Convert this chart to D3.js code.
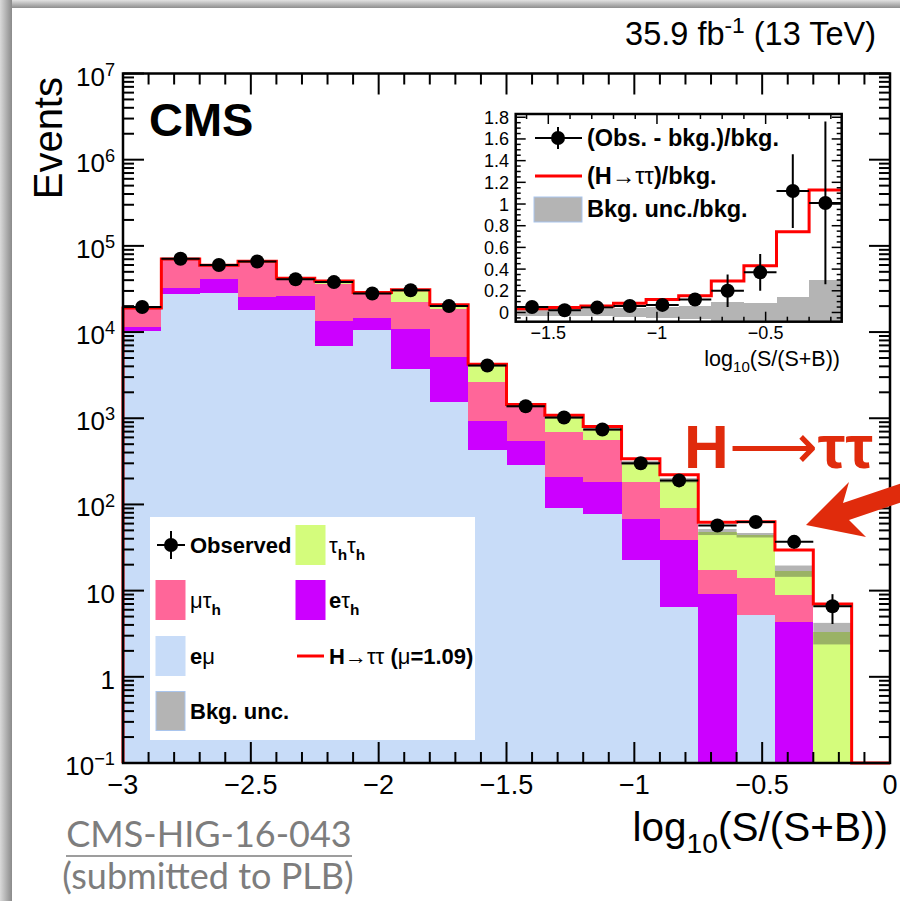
<!DOCTYPE html>
<html>
<head>
<meta charset="utf-8">
<script src="https://cdn.jsdelivr.net/npm/d3@7"></script>
<style>
  body { margin: 0; background: #fff; }
  svg { display: block; font-family: "Liberation Sans", Arial, Helvetica, sans-serif; }
</style>
</head>
<body>
<div id="chart"></div>
<script>
const W = 900, H = 908;

// bin edges of log10(S/(S+B))
const edges = [-3.00, -2.85, -2.70, -2.55, -2.40, -2.25, -2.10, -1.95, -1.80, -1.65,
               -1.50, -1.35, -1.20, -1.05, -0.90, -0.75, -0.60, -0.45, -0.30, -0.15, 0.00];

// background yields per bin (events)
const eMu    = [10300, 27900, 28400, 17900, 17900, 6900, 10500, 3770, 1550, 425, 285, 90, 78, 22.6, 6.5, 0, 5.2, 0, 0, 0];
const eTau   = [1200, 4500, 13300, 7600, 8000, 6500, 4000, 7030, 3650, 505, 261, 118, 104, 44.4, 32, 9.1, 0, 4.35, 0, 0];
const muTau  = [7400, 37400, 17500, 37500, 15500, 23100, 13600, 11500, 13500, 1670, 814, 485, 374, 115, 52.5, 8.2, 8.7, 4.55, 0, 0];
const tauTau = [100, 200, 200, 3000, 300, 2200, 300, 8200, 1700, 1500, 20, 327, 184, 121, 100, 30.7, 30.1, 8.1, 3.3, 0];
// relative background uncertainty
const bkgUnc = [0.03, 0.03, 0.03, 0.03, 0.03, 0.03, 0.03, 0.03, 0.03, 0.03, 0.03, 0.035, 0.04, 0.055, 0.06, 0.08, 0.06, 0.15, 0.28, 0];
// H->tautau signal (mu = 1.09)
const signal = [60, 250, 300, 400, 300, 350, 300, 450, 400, 143, 61, 61, 63, 36, 30, 14, 19, 12.7, 3.7, 0];
// observed data
const observed = [19500, 71000, 60000, 66000, 41000, 38000, 28000, 30500, 20000, 4100, 1380, 1020, 740, 300, 190, 57, 62.6, 36.8, 6.6, null];
const obsErr   = [140, 270, 245, 257, 202, 195, 167, 175, 141, 64, 37, 32, 27, 17, 14, 7.5, 8, 6, 2.5, 0];

// inset: last ten populated bins, ratios to background
const insetFirstBin = 9;
const insetObs    = [0.05, 0.02, 0.045, 0.06, 0.07, 0.12, 0.2, 0.37, 1.12, 1.01];
const insetObsErr = [0.02, 0.02, 0.025, 0.03, 0.04, 0.06, 0.15, 0.17, 0.34, 0.75];
const insetSig    = [0.035, 0.045, 0.06, 0.085, 0.12, 0.155, 0.29, 0.43, 0.745, 1.13];
const insetUnc    = [0.03, 0.03, 0.035, 0.04, 0.055, 0.06, 0.1, 0.09, 0.14, 0.3];

const xTickLabels = ["\u22123", "\u22122.5", "\u22122", "\u22121.5", "\u22121", "\u22120.5", "0"];
const insetXTickLabels = ["\u22121.5", "\u22121", "\u22120.5"];

const colors = { emu: "#c8dcf8", etau: "#cc00ff", mutau: "#ff6699", tautau: "#d4fc7c" };

const svg = d3.select('#chart').append('svg')
    .attr('width', W)
    .attr('height', H);

// slide shadow
const defs = svg.append('defs');
const gTop = defs.append('linearGradient').attr('id', 'shTop').attr('x1', 0).attr('y1', 0).attr('x2', 0).attr('y2', 1);
gTop.append('stop').attr('offset', '0%').attr('stop-color', '#e2e2e2');
gTop.append('stop').attr('offset', '100%').attr('stop-color', '#8e8e8e');
const gLeft = defs.append('linearGradient').attr('id', 'shLeft').attr('x1', 0).attr('y1', 0).attr('x2', 1).attr('y2', 0);
gLeft.append('stop').attr('offset', '0%').attr('stop-color', '#dadada');
gLeft.append('stop').attr('offset', '100%').attr('stop-color', '#8a8a8a');
svg.append('rect').attr('x', 0).attr('y', 0).attr('width', W).attr('height', 8).attr('fill', 'url(#shTop)');
svg.append('rect').attr('x', 0).attr('y', 0).attr('width', 12).attr('height', 901).attr('fill', 'url(#shLeft)');

// helper: text made of parts with bold / sub / sup
function rich(sel, parts, size) {
    let shift = 0;
    parts.forEach(p => {
        const s = p.sub ? 0.3 : (p.sup ? -0.38 : 0);
        const small = p.sub || p.sup;
        sel.append('tspan')
            .attr('dy', ((s - shift) * size).toFixed(2))
            .attr('font-size', small ? size * 0.7 : size)
            .attr('font-weight', p.b ? 'bold' : 'normal')
            .text(p.t);
        shift = s;
    });
    return sel;
}

// ---------------- main plot ----------------
const frame = { left: 123, right: 890, top: 73.5, bottom: 763 };
const x = d3.scaleLinear().domain([-3, 0]).range([frame.left, frame.right]);
const y = d3.scaleLog().domain([0.1, 1e7]).range([frame.bottom, frame.top]).clamp(true);
const yv = v => (v > 0.1 ? y(v) : y(0.1));

const keys = ['emu', 'etau', 'mutau', 'tautau'];
const rows = eMu.map((v, i) => ({ emu: v, etau: eTau[i], mutau: muTau[i], tautau: tauTau[i] }));
const stacked = d3.stack().keys(keys)(rows);
const totals = rows.map(r => r.emu + r.etau + r.mutau + r.tautau);

const plot = svg.append('g');

plot.append('g').selectAll('g')
    .data(stacked)
    .join('g')
    .attr('fill', d => colors[d.key])
    .selectAll('rect')
    .data(d => d)
    .join('rect')
    .attr('shape-rendering', 'crispEdges')
    .attr('x', (d, i) => x(edges[i]))
    .attr('width', (d, i) => x(edges[i + 1]) - x(edges[i]))
    .attr('y', d => yv(d[1]))
    .attr('height', d => Math.max(0, yv(d[0]) - yv(d[1])));

// background uncertainty band
plot.append('g').selectAll('rect')
    .data(totals.map((t, i) => ({ t, u: bkgUnc[i], i })).filter(d => d.t > 0))
    .join('rect')
    .attr('x', d => x(edges[d.i]))
    .attr('width', d => x(edges[d.i + 1]) - x(edges[d.i]))
    .attr('y', d => yv(d.t * (1 + d.u)))
    .attr('height', d => yv(d.t * (1 - d.u)) - yv(d.t * (1 + d.u)))
    .attr('fill', '#444')
    .attr('opacity', 0.4);

// signal + background outline
const sigPts = [[edges[0], 0.1]];
totals.forEach((t, i) => sigPts.push([edges[i], t + signal[i]]));
sigPts.push([edges[edges.length - 1], totals[totals.length - 1] + signal[signal.length - 1]]);
sigPts.push([edges[edges.length - 1], 0.1]);
plot.append('path')
    .datum(sigPts)
    .attr('fill', 'none')
    .attr('stroke', '#ff0000')
    .attr('stroke-width', 3)
    .attr('d', d3.line().x(d => x(d[0])).y(d => yv(d[1])).curve(d3.curveStepAfter));

// observed points
const obsData = observed.map((v, i) => ({ v, e: obsErr[i], i })).filter(d => d.v != null);
const obsG = plot.append('g').attr('stroke', '#000').attr('stroke-width', 2);
obsG.selectAll('.eh').data(obsData).join('line')
    .attr('x1', d => x(edges[d.i])).attr('x2', d => x(edges[d.i + 1]))
    .attr('y1', d => y(d.v)).attr('y2', d => y(d.v));
obsG.selectAll('.ev').data(obsData).join('line')
    .attr('x1', d => x((edges[d.i] + edges[d.i + 1]) / 2)).attr('x2', d => x((edges[d.i] + edges[d.i + 1]) / 2))
    .attr('y1', d => yv(d.v + d.e)).attr('y2', d => yv(d.v - d.e));
plot.append('g').selectAll('circle').data(obsData).join('circle')
    .attr('cx', d => x((edges[d.i] + edges[d.i + 1]) / 2))
    .attr('cy', d => y(d.v))
    .attr('r', 7)
    .attr('fill', '#000');

// frame and ticks
const axes = svg.append('g').attr('stroke', '#000');
const yTicks = y.ticks();
const isDecade = v => Math.abs(Math.log10(v) - Math.round(Math.log10(v))) < 1e-6;
yTicks.forEach(t => {
    const len = isDecade(t) ? 21 : 11;
    axes.append('line').attr('x1', frame.left).attr('x2', frame.left + len).attr('y1', y(t)).attr('y2', y(t)).attr('stroke-width', 2);
    axes.append('line').attr('x1', frame.right).attr('x2', frame.right - len).attr('y1', y(t)).attr('y2', y(t)).attr('stroke-width', 2);
});
const xTicks = x.ticks(30);
const isHalf = v => Math.abs(v * 2 - Math.round(v * 2)) < 1e-6;
xTicks.forEach(t => {
    const len = isHalf(t) ? 21 : 11;
    axes.append('line').attr('x1', x(t)).attr('x2', x(t)).attr('y1', frame.bottom).attr('y2', frame.bottom - len).attr('stroke-width', 2);
    axes.append('line').attr('x1', x(t)).attr('x2', x(t)).attr('y1', frame.top).attr('y2', frame.top + len).attr('stroke-width', 2);
});
axes.append('rect')
    .attr('x', frame.left).attr('y', frame.top)
    .attr('width', frame.right - frame.left).attr('height', frame.bottom - frame.top)
    .attr('fill', 'none').attr('stroke-width', 2.5);

// y tick labels
yTicks.filter(isDecade).forEach(t => {
    const n = Math.round(Math.log10(t));
    const parts = n === 0 ? [{ t: '1' }] : n === 1 ? [{ t: '10' }]
        : [{ t: '10' }, { t: n < 0 ? '\u2212' + (-n) : String(n), sup: true }];
    const txt = svg.append('text').attr('x', 115).attr('y', y(t) + 12).attr('text-anchor', 'end');
    rich(txt, parts, 26);
});
// x tick labels
xTicks.filter(isHalf).forEach((t, i) => {
    svg.append('text').attr('x', x(t)).attr('y', 794).attr('text-anchor', 'middle')
        .attr('font-size', 27).text(xTickLabels[i]);
});

// axis titles
rich(svg.append('text').attr('x', 888).attr('y', 841).attr('text-anchor', 'end'),
    [{ t: 'log' }, { t: '10', sub: true }, { t: '(S/(S+B))' }], 40.5);
svg.append('text')
    .attr('transform', 'translate(62,77) rotate(-90)')
    .attr('text-anchor', 'end')
    .attr('font-size', 40)
    .text('Events');

svg.append('text').attr('x', 149).attr('y', 136).attr('font-size', 47).attr('font-weight', 'bold').text('CMS');
rich(svg.append('text').attr('x', 876).attr('y', 45).attr('text-anchor', 'end'),
    [{ t: '35.9 fb' }, { t: '-1', sup: true }, { t: ' (13 TeV)' }], 32.5);

// ---------------- legend ----------------
const leg = svg.append('g');
leg.append('rect').attr('x', 150).attr('y', 517).attr('width', 325).attr('height', 223).attr('fill', '#fff');
const legSize = 22;
const rowsY = [545, 600, 656, 711];
function legBox(xb, yc, fill, stroke) {
    leg.append('rect').attr('x', xb).attr('y', yc - 19.5).attr('width', 29).attr('height', 39)
        .attr('fill', fill).attr('stroke', stroke || fill).attr('stroke-width', 1);
}
function legText(xt, yc, parts) {
    rich(leg.append('text').attr('x', xt).attr('y', yc + 8), parts, legSize);
}
// observed marker
leg.append('line').attr('x1', 157).attr('x2', 185).attr('y1', rowsY[0]).attr('y2', rowsY[0]).attr('stroke', '#000').attr('stroke-width', 2);
leg.append('line').attr('x1', 171).attr('x2', 171).attr('y1', rowsY[0] - 14).attr('y2', rowsY[0] + 14).attr('stroke', '#000').attr('stroke-width', 2);
leg.append('circle').attr('cx', 171).attr('cy', rowsY[0]).attr('r', 7).attr('fill', '#000');
legText(190, rowsY[0], [{ t: 'Observed', b: true }]);
legBox(296, rowsY[0], colors.tautau);
legText(329, rowsY[0], [{ t: '\u03c4' }, { t: 'h', sub: true, b: true }, { t: '\u03c4' }, { t: 'h', sub: true, b: true }]);
legBox(156, rowsY[1], colors.mutau);
legText(190, rowsY[1], [{ t: '\u03bc\u03c4' }, { t: 'h', sub: true, b: true }]);
legBox(296, rowsY[1], colors.etau);
legText(329, rowsY[1], [{ t: 'e', b: true }, { t: '\u03c4' }, { t: 'h', sub: true, b: true }]);
legBox(156, rowsY[2], colors.emu);
legText(190, rowsY[2], [{ t: 'e', b: true }, { t: '\u03bc' }]);
leg.append('line').attr('x1', 297).attr('x2', 324).attr('y1', rowsY[2]).attr('y2', rowsY[2]).attr('stroke', '#ff0000').attr('stroke-width', 3);
legText(329, rowsY[2], [{ t: 'H', b: true }, { t: '\u2192\u03c4\u03c4' }, { t: ' (', b: true }, { t: '\u03bc' }, { t: '=1.09)', b: true }]);
legBox(156, rowsY[3], '#b4b4b4', '#a9c5ee');
legText(190, rowsY[3], [{ t: 'Bkg. unc.', b: true }]);

// ---------------- inset ----------------
const inset = { left: 515.7, right: 841.7, top: 114, bottom: 321.7 };
const ix = d3.scaleLinear().domain([edges[insetFirstBin], edges[insetFirstBin + insetObs.length]]).range([inset.left, inset.right]);
const iy = d3.scaleLinear().domain([-0.085, 1.83]).range([inset.bottom, inset.top]);
const ig = svg.append('g');
ig.append('rect').attr('x', inset.left).attr('y', inset.top)
    .attr('width', inset.right - inset.left).attr('height', inset.bottom - inset.top).attr('fill', '#fff');
defs.append('clipPath').attr('id', 'insetClip').append('rect')
    .attr('x', inset.left).attr('y', inset.top)
    .attr('width', inset.right - inset.left).attr('height', inset.bottom - inset.top);
const ibins = insetObs.map((v, k) => ({ k, lo: edges[insetFirstBin + k], hi: edges[insetFirstBin + k + 1] }));

ig.append('g').attr('clip-path', 'url(#insetClip)').selectAll('rect')
    .data(ibins).join('rect')
    .attr('shape-rendering', 'crispEdges')
    .attr('x', d => ix(d.lo)).attr('width', d => ix(d.hi) - ix(d.lo))
    .attr('y', d => iy(insetUnc[d.k])).attr('height', d => iy(-insetUnc[d.k]) - iy(insetUnc[d.k]))
    .attr('fill', '#b4b4b4');

const iSigPts = ibins.map(d => [d.lo, insetSig[d.k]]);
iSigPts.push([ibins[ibins.length - 1].hi, insetSig[insetSig.length - 1]]);
ig.append('path').datum(iSigPts)
    .attr('fill', 'none').attr('stroke', '#ff0000').attr('stroke-width', 3)
    .attr('d', d3.line().x(d => ix(d[0])).y(d => iy(d[1])).curve(d3.curveStepAfter));

const iObsG = ig.append('g').attr('stroke', '#000').attr('stroke-width', 2).attr('clip-path', 'url(#insetClip)');
iObsG.selectAll('.h').data(ibins).join('line')
    .attr('x1', d => ix(d.lo)).attr('x2', d => ix(d.hi))
    .attr('y1', d => iy(insetObs[d.k])).attr('y2', d => iy(insetObs[d.k]));
iObsG.selectAll('.v').data(ibins).join('line')
    .attr('x1', d => ix((d.lo + d.hi) / 2)).attr('x2', d => ix((d.lo + d.hi) / 2))
    .attr('y1', d => iy(insetObs[d.k] + insetObsErr[d.k])).attr('y2', d => iy(insetObs[d.k] - insetObsErr[d.k]));
ig.append('g').selectAll('circle').data(ibins).join('circle')
    .attr('cx', d => ix((d.lo + d.hi) / 2)).attr('cy', d => iy(insetObs[d.k]))
    .attr('r', 7).attr('fill', '#000');

// inset axes
const iax = ig.append('g').attr('stroke', '#000').attr('stroke-width', 1.5);
const ixTicks = ix.ticks(15);
ixTicks.forEach(t => {
    const len = isHalf(t) ? 10 : 5;
    iax.append('line').attr('x1', ix(t)).attr('x2', ix(t)).attr('y1', inset.bottom).attr('y2', inset.bottom - len);
    iax.append('line').attr('x1', ix(t)).attr('x2', ix(t)).attr('y1', inset.top).attr('y2', inset.top + len);
});
const iyTicks = iy.ticks(40);
const isFifth = v => Math.abs(v * 5 - Math.round(v * 5)) < 1e-6;
iyTicks.forEach(t => {
    const len = isFifth(t) ? 10 : 5;
    iax.append('line').attr('x1', inset.left).attr('x2', inset.left + len).attr('y1', iy(t)).attr('y2', iy(t));
    iax.append('line').attr('x1', inset.right).attr('x2', inset.right - len).attr('y1', iy(t)).attr('y2', iy(t));
});
iax.append('rect').attr('x', inset.left).attr('y', inset.top)
    .attr('width', inset.right - inset.left).attr('height', inset.bottom - inset.top)
    .attr('fill', 'none').attr('stroke-width', 2.5);

iyTicks.filter(isFifth).forEach(t => {
    ig.append('text').attr('x', 509).attr('y', iy(t) + 6.5).attr('text-anchor', 'end')
        .attr('font-size', 18).text(String(+t.toFixed(1)));
});
ixTicks.filter(isHalf).forEach((t, i) => {
    ig.append('text').attr('x', ix(t)).attr('y', 339).attr('text-anchor', 'middle')
        .attr('font-size', 18).text(insetXTickLabels[i]);
});
rich(ig.append('text').attr('x', 840).attr('y', 366).attr('text-anchor', 'end'),
    [{ t: 'log' }, { t: '10', sub: true }, { t: '(S/(S+B))' }], 21.5);

// inset legend
const il = ig.append('g');
il.append('line').attr('x1', 535).attr('x2', 582).attr('y1', 138).attr('y2', 138).attr('stroke', '#000').attr('stroke-width', 2);
il.append('line').attr('x1', 558).attr('x2', 558).attr('y1', 127).attr('y2', 149).attr('stroke', '#000').attr('stroke-width', 2);
il.append('circle').attr('cx', 558).attr('cy', 138).attr('r', 7).attr('fill', '#000');
rich(il.append('text').attr('x', 587).attr('y', 146), [{ t: '(Obs. - bkg.)/bkg.', b: true }], 23.5);
il.append('line').attr('x1', 535).attr('x2', 582).attr('y1', 176).attr('y2', 176).attr('stroke', '#ff0000').attr('stroke-width', 3);
rich(il.append('text').attr('x', 587).attr('y', 184),
    [{ t: '(H', b: true }, { t: '\u2192\u03c4\u03c4' }, { t: ')/bkg.', b: true }], 23.5);
il.append('rect').attr('x', 534).attr('y', 197).attr('width', 48).attr('height', 25)
    .attr('fill', '#b4b4b4').attr('stroke', '#a9c5ee');
rich(il.append('text').attr('x', 587).attr('y', 217), [{ t: 'Bkg. unc./bkg.', b: true }], 23.5);

// ---------------- annotations ----------------
const red = '#e02b0c';
rich(svg.append('text').attr('x', 684).attr('y', 468).attr('fill', red),
    [{ t: 'H', b: true }, { t: '\u27f6' }, { t: '\u03c4\u03c4', b: true }], 62);
svg.append('path')
    .attr('d', 'M806,525 L849,482 L843,503 L905,482 L905,501 L849,520 L866,537 Z')
    .attr('fill', red);

const grey = '#7d7d7d';
svg.append('text').attr('x', 209).attr('y', 847).attr('text-anchor', 'middle')
    .style('font-family', 'Lato, "Open Sans", sans-serif').attr('font-size', 36).attr('fill', grey)
    .text('CMS-HIG-16-043');
svg.append('line').attr('x1', 66).attr('x2', 352).attr('y1', 856).attr('y2', 856)
    .attr('stroke', grey).attr('stroke-width', 1.5);
svg.append('text').attr('x', 208).attr('y', 889).attr('text-anchor', 'middle')
    .style('font-family', 'Lato, "Open Sans", sans-serif').attr('font-size', 36).attr('fill', grey)
    .text('(submitted to PLB)');
</script>
</body>
</html>
